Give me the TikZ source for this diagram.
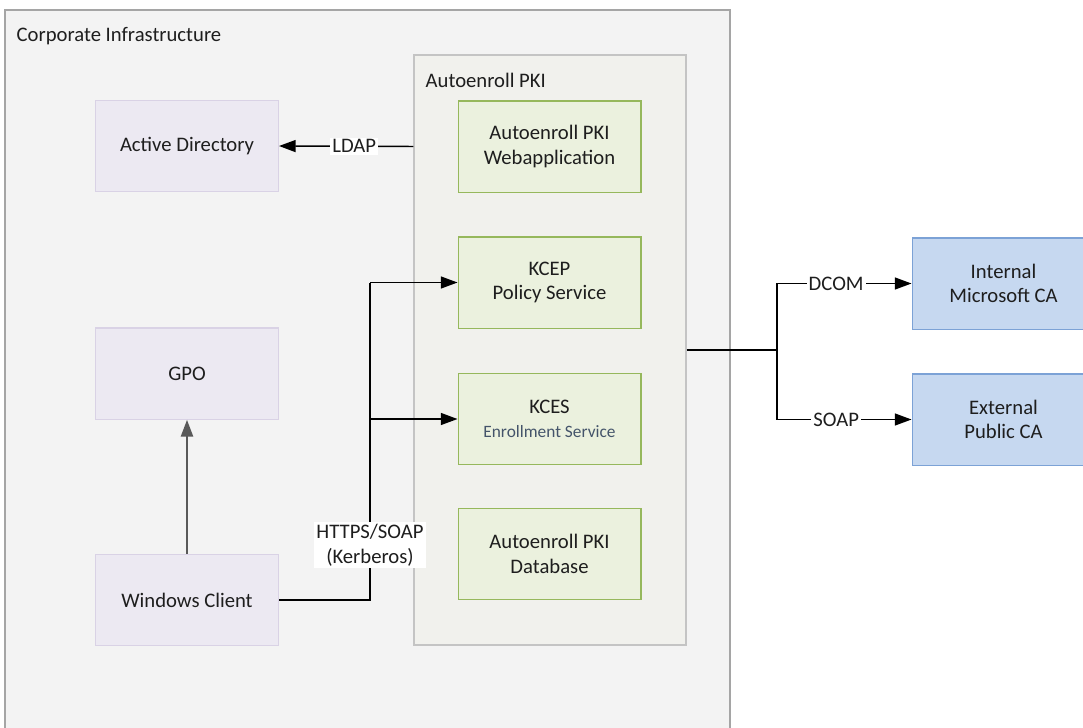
\documentclass[tikz,border=0pt]{standalone}
\usepackage{fontspec}
\setmainfont{Carlito}
\usetikzlibrary{arrows.meta, positioning, calc}
\definecolor{infragray}{RGB}{243, 243, 243}
\definecolor{infraline}{RGB}{165, 165, 165}
\definecolor{pkigray}{RGB}{241, 241, 237}
\definecolor{pkiline}{RGB}{196, 196, 196}
\definecolor{adpurple}{RGB}{236, 233, 242}
\definecolor{adline}{RGB}{217, 210, 229}
\definecolor{pkigreen}{RGB}{235, 241, 222}
\definecolor{pkigreenline}{RGB}{150, 184, 92}
\definecolor{cablue}{RGB}{198, 216, 240}
\definecolor{cablueline}{RGB}{124, 162, 214}
\definecolor{textdark}{RGB}{30, 30, 30}
\definecolor{textslate}{RGB}{68, 84, 106}

\begin{document}
\begin{tikzpicture}[x=0.75pt, y=-0.75pt, font=\fontsize{15.5}{18.5}\selectfont, text=textdark]
    \tikzstyle{block} = [rectangle, minimum width=137pt, minimum height=68.5pt, align=center, line width=1pt]
    \tikzstyle{client} = [block, draw=adline, fill=adpurple]
    \tikzstyle{service} = [block, draw=pkigreenline, fill=pkigreen]
    \tikzstyle{ca} = [block, draw=cablueline, fill=cablue]
    \tikzstyle{arrow} = [line width=1.1pt, ->, >={Triangle[length=12.5pt, width=9pt]}]
    \tikzstyle{proto} = [fill=white, inner sep=1.5pt, align=center]

    \useasboundingbox (0,0) rectangle (1083,728);
    \clip (0,0) rectangle (1083,728);

    % corporate infrastructure
    \draw[line width=1.2pt, draw=infraline, fill=infragray] (5,10) rectangle (730,745);
    \node[anchor=west] (corp) at (12,36) {Corporate Infrastructure};

    \node[client] (ad) at (187,146) {Active Directory};
    \node[client] (gpo) at (187,373.5) {GPO};
    \node[client] (win) at (187,600) {Windows Client};

    % autoenroll pki
    \node[rectangle, draw=pkiline, fill=pkigray, line width=1pt, minimum width=204pt, minimum height=442.5pt] (pki) at (550,350) {};
    \node[anchor=west] (pkititle) at (421,80) {Autoenroll PKI};

    \node[service] (web) at (549.5,146.5) {Autoenroll PKI\\Webapplication};
    \node[service] (kcep) at (549.5,282.5) {KCEP\\Policy Service};
    \node[service] (kces) at (549.5,419) {KCES\\{\fontsize{13}{16}\selectfont\color{textslate}Enrollment Service}};
    \node[service] (db) at (549.5,554) {Autoenroll PKI\\Database};

    % certificate authorities
    \node[ca] (intca) at (1003.5,283.5) {Internal\\Microsoft CA};
    \node[ca] (extca) at (1003.5,419.5) {External\\Public CA};

    \coordinate (bus) at (370,600);
    \coordinate (split) at (777,350);

    \draw[arrow] (pki.west |- web.west) -- node[proto, pos=0.44] {LDAP} (ad.east);
    \draw[arrow, draw=black!65, line width=1.6pt] (win.north) -- (gpo.south);

    \draw[line width=1.1pt] (win.east) -- (bus) -- (bus |- kcep.west);
    \draw[arrow] (bus |- kcep.west) -- (kcep.west);
    \draw[arrow] (bus |- kces.west) -- (kces.west);
    \node[proto] (https) at (370,545) {HTTPS/SOAP\\(Kerberos)};

    \draw[line width=1.1pt] (pki.east) -- (split);
    \draw[arrow] (split) |- node[proto, pos=0.72] {DCOM} (intca.west);
    \draw[arrow] (split) |- node[proto, pos=0.72] {SOAP} (extca.west);
\end{tikzpicture}
\end{document}
